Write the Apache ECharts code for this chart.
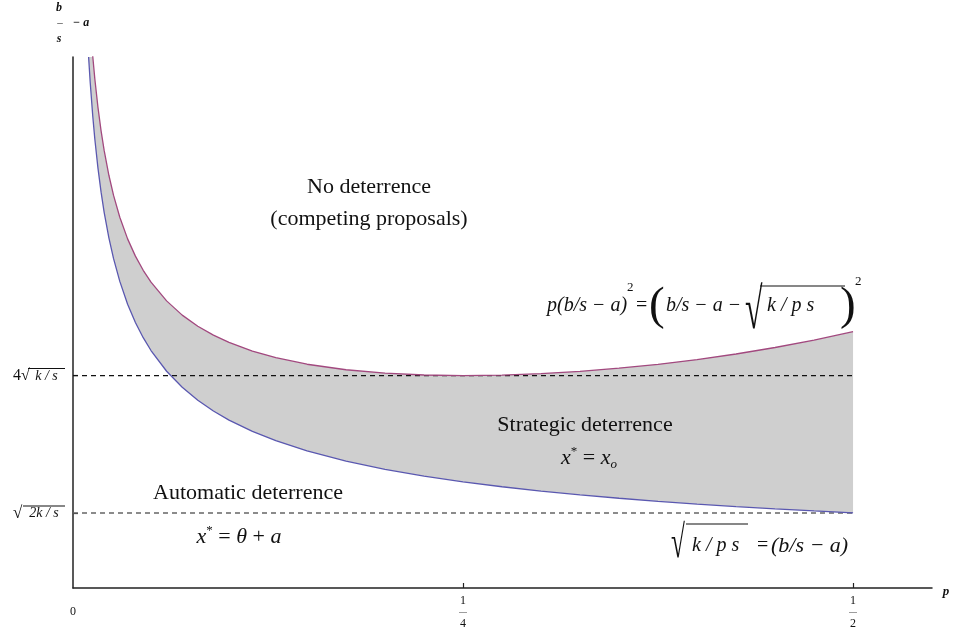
<!DOCTYPE html>
<html>
<head>
<meta charset="utf-8">
<script src="https://cdn.jsdelivr.net/npm/echarts@6/dist/echarts.min.js"></script>
<style>html,body{margin:0;padding:0;background:#fff}#c{width:955px;height:638px}</style>
</head>
<body>
<div id="c"></div>
<script>
// ---- data (k/s taken as 1) ----
const pValues   = [0.01, 0.011, 0.0127, 0.014, 0.016, 0.018, 0.02, 0.023, 0.026, 0.03, 0.035, 0.04, 0.045, 0.05, 0.06, 0.07, 0.08, 0.09, 0.1, 0.115, 0.13, 0.15, 0.175, 0.2, 0.225, 0.25, 0.275, 0.3, 0.325, 0.35, 0.375, 0.4, 0.425, 0.45, 0.475, 0.5];
const lowerCurve = [10.0, 9.535, 8.874, 8.452, 7.906, 7.454, 7.071, 6.594, 6.202, 5.774, 5.345, 5.0, 4.714, 4.472, 4.082, 3.78, 3.536, 3.333, 3.162, 2.949, 2.774, 2.582, 2.39, 2.236, 2.108, 2.0, 1.907, 1.826, 1.754, 1.69, 1.633, 1.581, 1.534, 1.491, 1.451, 1.414];
const upperCurve = [11.111, 10.652, 10.001, 9.586, 9.05, 8.609, 8.236, 7.773, 7.394, 6.983, 6.575, 6.25, 5.983, 5.76, 5.407, 5.139, 4.93, 4.762, 4.625, 4.462, 4.337, 4.214, 4.11, 4.045, 4.011, 4.0, 4.01, 4.037, 4.08, 4.139, 4.213, 4.302, 4.407, 4.529, 4.668, 4.828];
const refLevels   = [4, 1.414];          // 4√(k/s), √(2k/s)
const refLevelEnd = 0.5;
const xTickValues = [0, 0.25, 0.5];
const xTickNum    = ['', '1', '1'];
const xTickDen    = ['', '4', '2'];
const yTickValues = [1.414, 4];
const yTickPrefix = ['√', '4√'];
const yTickRad    = ['2k / s', 'k / s'];

const SERIF = "'Liberation Serif', 'DejaVu Serif', serif";
const INK = '#111';

const chart = echarts.init(document.getElementById('c'), null, {renderer: 'canvas'});

const lowerPts = pValues.map((p, i) => [p, lowerCurve[i]]);
const upperPts = pValues.map((p, i) => [p, upperCurve[i]]);

function T(x, y, text, font, extra) {
  return Object.assign({type: 'text', x: x, y: y, z: 100, silent: true,
    style: {text: text, font: font, fill: INK, align: 'left', verticalAlign: 'middle', textAlign: 'left', textVerticalAlign: 'middle'}}, extra || {});
}
function TC(x, y, text, font) {
  return {type: 'text', x: x, y: y, z: 100, silent: true,
    style: {text: text, font: font, fill: INK, align: 'center', verticalAlign: 'middle', textAlign: 'center', textVerticalAlign: 'middle'}};
}
function L(x1, y1, x2, y2) {
  return {type: 'line', z: 100, silent: true, shape: {x1: x1, y1: y1, x2: x2, y2: y2}, style: {stroke: INK, lineWidth: 1.1}};
}

const option = {
  animation: false,
  backgroundColor: '#fff',
  grid: {left: 73, right: 23, top: 57, bottom: 50, containLabel: false},
  xAxis: {
    type: 'value', min: 0, max: 0.5506,
    axisLine: {show: true, lineStyle: {color: '#222', width: 1.5}},
    splitLine: {show: false},
    axisTick: {show: true, inside: true, length: 5, customValues: [0.25, 0.5], lineStyle: {color: '#222', width: 1.2}},
    axisLabel: {
      customValues: xTickValues, margin: 7, showMinLabel: true, showMaxLabel: true,
      formatter: v => {
        const i = xTickValues.indexOf(v);
        if (i < 0) return '';
        if (!xTickNum[i]) return '{n| }\n{z|0}\n{n| }';
        return '{n|' + xTickNum[i] + '}\n{b|—}\n{n|' + xTickDen[i] + '}';
      },
      rich: {
        n: {fontFamily: SERIF, fontSize: 12, color: INK, lineHeight: 11.5, align: 'center'},
        z: {fontFamily: SERIF, fontSize: 12, color: INK, lineHeight: 11.5, align: 'center'},
        b: {fontFamily: SERIF, fontSize: 8, color: INK, lineHeight: 11.5, align: 'center'}
      }
    }
  },
  yAxis: {
    type: 'value', min: 0, max: 10,
    axisLine: {show: true, onZero: false, lineStyle: {color: '#222', width: 1.5}},
    splitLine: {show: false},
    axisTick: {show: true, inside: true, length: 5, customValues: yTickValues, lineStyle: {color: '#222', width: 1.2}},
    axisLabel: {
      customValues: yTickValues, margin: 8, align: 'right',
      formatter: v => {
        const i = yTickValues.indexOf(v);
        if (i < 0) return '';
        return '{sp' + i + '| }{bar' + i + '| }\n{s' + i + '|' + yTickPrefix[i] + '}{t' + i + '|' + yTickRad[i] + '}';
      },
      rich: {
        sp0: {width: 10, height: 1, lineHeight: 1, fontSize: 1},
        bar0: {width: 42, height: 1, lineHeight: 1, fontSize: 1, backgroundColor: INK},
        s0: {width: 10, fontFamily: SERIF, fontSize: 17, color: INK, lineHeight: 14, align: 'left'},
        t0: {width: 42, fontFamily: SERIF, fontSize: 14, fontStyle: 'italic', color: INK, lineHeight: 14, align: 'center'},
        sp1: {width: 15, height: 1, lineHeight: 1, fontSize: 1},
        bar1: {width: 37, height: 1, lineHeight: 1, fontSize: 1, backgroundColor: INK},
        s1: {width: 15, fontFamily: SERIF, fontSize: 16, color: INK, lineHeight: 14, align: 'left'},
        t1: {width: 37, fontFamily: SERIF, fontSize: 14, fontStyle: 'italic', color: INK, lineHeight: 14, align: 'center'}
      }
    }
  },
  series: [
    {type: 'custom', name: 'band', coordinateSystem: 'cartesian2d', data: [[0, 0]], silent: true, z: 1,
     renderItem: (params, api) => {
       const pts = [];
       for (let i = 0; i < pValues.length; i++) pts.push(api.coord([pValues[i], upperCurve[i]]));
       for (let i = pValues.length - 1; i >= 0; i--) pts.push(api.coord([pValues[i], lowerCurve[i]]));
       const cs = params.coordSys;
       return {type: 'polygon', shape: {points: pts}, style: {fill: '#cfcfcf', stroke: null},
               clipPath: {type: 'rect', shape: {x: cs.x, y: cs.y, width: cs.width, height: cs.height}}};
     }},
    {type: 'line', name: 'level4', data: [[0, refLevels[0]], [refLevelEnd, refLevels[0]]], symbol: 'none',
     lineStyle: {color: '#111', width: 1.3, type: [5, 4]}, z: 2},
    {type: 'line', name: 'level2', data: [[0, refLevels[1]], [refLevelEnd, refLevels[1]]], symbol: 'none',
     lineStyle: {color: '#666', width: 1.5, type: [5, 4]}, z: 2},
    {type: 'line', name: 'upper', data: upperPts, symbol: 'none',
     lineStyle: {color: '#a2497f', width: 1.3}, z: 3},
    {type: 'line', name: 'lower', data: lowerPts, symbol: 'none',
     lineStyle: {color: '#5a58b0', width: 1.3}, z: 3}
  ],
  graphic: [
    // y-axis name b/s - a
    TC(59, 8, 'b', 'italic bold 12px ' + SERIF),
    TC(60, 23, '–', '11px ' + SERIF),
    TC(81, 23, '− a', 'italic bold 12px ' + SERIF),
    TC(59, 39, 's', 'italic bold 12px ' + SERIF),
    // x-axis name
    TC(946, 592, 'p', 'italic bold 13px ' + SERIF),
    // region labels
    TC(369, 187, 'No deterrence', '22px ' + SERIF),
    TC(369, 219, '(competing proposals)', '22px ' + SERIF),
    TC(585, 425, 'Strategic deterrence', '22px ' + SERIF),
    TC(248, 493, 'Automatic deterrence', '22px ' + SERIF),
    // x* = x_o
    {type: 'text', x: 589, y: 458, z: 100, silent: true, style: {
      text: '{i|x}{sup|*}{n| = }{i|x}{sub|o}', align: 'center', verticalAlign: 'middle', textAlign: 'center', textVerticalAlign: 'middle',
      rich: {
        i: {font: 'italic 22px ' + SERIF, fill: INK, lineHeight: 26},
        n: {font: '22px ' + SERIF, fill: INK, lineHeight: 26},
        sup: {font: '13px ' + SERIF, fill: INK, verticalAlign: 'top', lineHeight: 13},
        sub: {font: 'italic 13px ' + SERIF, fill: INK, verticalAlign: 'bottom', lineHeight: 13}
      }}},
    // x* = θ + a
    {type: 'text', x: 239, y: 537, z: 100, silent: true, style: {
      text: '{i|x}{sup|*}{n| = }{i|θ}{n| + }{i|a}', align: 'center', verticalAlign: 'middle', textAlign: 'center', textVerticalAlign: 'middle',
      rich: {
        i: {font: 'italic 22px ' + SERIF, fill: INK, lineHeight: 26},
        n: {font: '22px ' + SERIF, fill: INK, lineHeight: 26},
        sup: {font: '13px ' + SERIF, fill: INK, verticalAlign: 'top', lineHeight: 13}
      }}},
    // p(b/s - a)^2 = (b/s - a - sqrt(k/ps))^2
    T(547, 306, 'p(b/s − a)', 'italic 20px ' + SERIF),
    T(627, 288, '2', '13px ' + SERIF),
    T(636, 306, '=', '20px ' + SERIF),
    T(649, 307, '(', '47px ' + SERIF),
    T(666, 306, 'b/s − a −', 'italic 20px ' + SERIF),
    T(745, 312.6, '√', '58px ' + SERIF, {scaleX: 0.55}),
    L(760, 286, 845, 286),
    T(767, 306, 'k / p s', 'italic 20px ' + SERIF),
    T(840, 307, ')', '47px ' + SERIF),
    T(855, 282, '2', '13px ' + SERIF),
    // sqrt(k/ps) = (b/s - a)
    T(671, 545, '√', '46px ' + SERIF, {scaleX: 0.55}),
    L(686, 524, 748, 524),
    T(692, 546, 'k / p s', 'italic 20px ' + SERIF),
    T(757, 546, '=', '20px ' + SERIF),
    T(771, 546, '(b/s − a)', 'italic 22px ' + SERIF)
  ]
};
chart.setOption(option);
</script>
</body>
</html>
